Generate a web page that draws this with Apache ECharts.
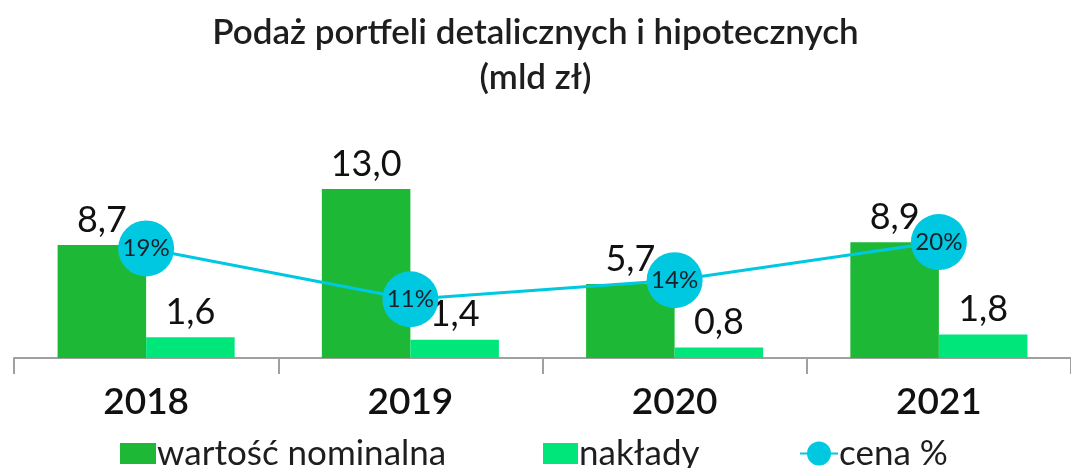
<!DOCTYPE html>
<html>
<head>
<meta charset="utf-8">
<script src="https://cdn.jsdelivr.net/npm/echarts@6/dist/echarts.min.js"></script>
<style>
  html, body { margin: 0; padding: 0; background: #fff; }
  #chart { width: 1071px; height: 468px; }
</style>
</head>
<body>
<div id="chart"></div>
<script>
// dane
const years = ['2018', '2019', '2020', '2021'];
const nominal = [8.7, 13.0, 5.7, 8.9];   // wartość nominalna (mld zł)
const outlays = [1.6, 1.4, 0.8, 1.8];    // nakłady (mld zł)
const price = [19, 11, 14, 20];          // cena %

const fmt = v => v.toFixed(1).replace('.', ',');
const FONT = 'Lato, "Noto Sans", sans-serif';

const chart = echarts.init(document.getElementById('chart'));

const legendText = { fontFamily: FONT, fontSize: 35, color: '#1e1e1e', padding: [0, 0, 0, -4] };

const option = {
  backgroundColor: '#fff',
  textStyle: { fontFamily: FONT },
  animation: false,
  title: [
    {
      text: 'Podaż portfeli detalicznych i hipotecznych',
      left: 'center',
      top: 10,
      textStyle: { fontFamily: FONT, fontSize: 35, fontWeight: 600, color: '#1e1e1e' }
    },
    {
      text: '(mld zł)',
      left: 'center',
      top: 55,
      textStyle: { fontFamily: FONT, fontSize: 35, fontWeight: 600, color: '#1e1e1e' }
    }
  ],
  legend: [
    {
      data: ['wartość nominalna'],
      left: 115, top: 431,
      icon: 'rect',
      itemWidth: 36, itemHeight: 21, itemGap: 0,
      textStyle: legendText
    },
    {
      data: ['nakłady'],
      left: 538, top: 431,
      icon: 'rect',
      itemWidth: 35, itemHeight: 21, itemGap: 0,
      textStyle: legendText
    },
    {
      data: ['cena %'],
      left: 794, top: 431,
      itemWidth: 38, itemHeight: 30, itemGap: 0,
      textStyle: legendText
    }
  ],
  grid: {
    left: 14,
    width: 1066,
    top: 150,
    bottom: 110,
    containLabel: false
  },
  xAxis: {
    type: 'category',
    data: years,
    boundaryGap: true,
    axisLine: { show: true, lineStyle: { color: '#a0a0a0', width: 2 } },
    axisTick: { show: true, length: 16, lineStyle: { color: '#a0a0a0', width: 2 } },
    axisLabel: {
      fontFamily: FONT,
      fontSize: 37,
      fontWeight: 600,
      color: '#111',
      margin: 26
    }
  },
  yAxis: [
    { type: 'value', min: 0, max: 16, show: false },
    { type: 'value', min: 1.75, max: 34.5, show: false }
  ],
  series: [
    {
      name: 'wartość nominalna',
      type: 'bar',
      data: nominal,
      barGap: '0%',
      barCategoryGap: '33%',
      itemStyle: { color: '#1DB936' },
      label: {
        show: true,
        position: 'top',
        distance: 7,
        fontFamily: FONT,
        fontSize: 36,
        color: '#111',
        formatter: p => fmt(p.value)
      },
      z: 2
    },
    {
      name: 'nakłady',
      type: 'bar',
      data: outlays,
      itemStyle: { color: '#00E67A' },
      label: {
        show: true,
        position: 'top',
        distance: 7,
        fontFamily: FONT,
        fontSize: 36,
        color: '#111',
        formatter: p => fmt(p.value)
      },
      z: 2
    },
    {
      name: 'cena %',
      type: 'line',
      yAxisIndex: 1,
      data: price,
      symbol: 'circle',
      symbolSize: 56,
      lineStyle: { color: '#00C8E0', width: 3 },
      itemStyle: { color: '#00C8E0' },
      label: {
        show: true,
        position: 'inside',
        fontFamily: FONT,
        fontSize: 24,
        color: '#15202b',
        formatter: p => p.value + '%'
      },
      z: 5
    }
  ]
};

chart.setOption(option);
</script>
</body>
</html>
